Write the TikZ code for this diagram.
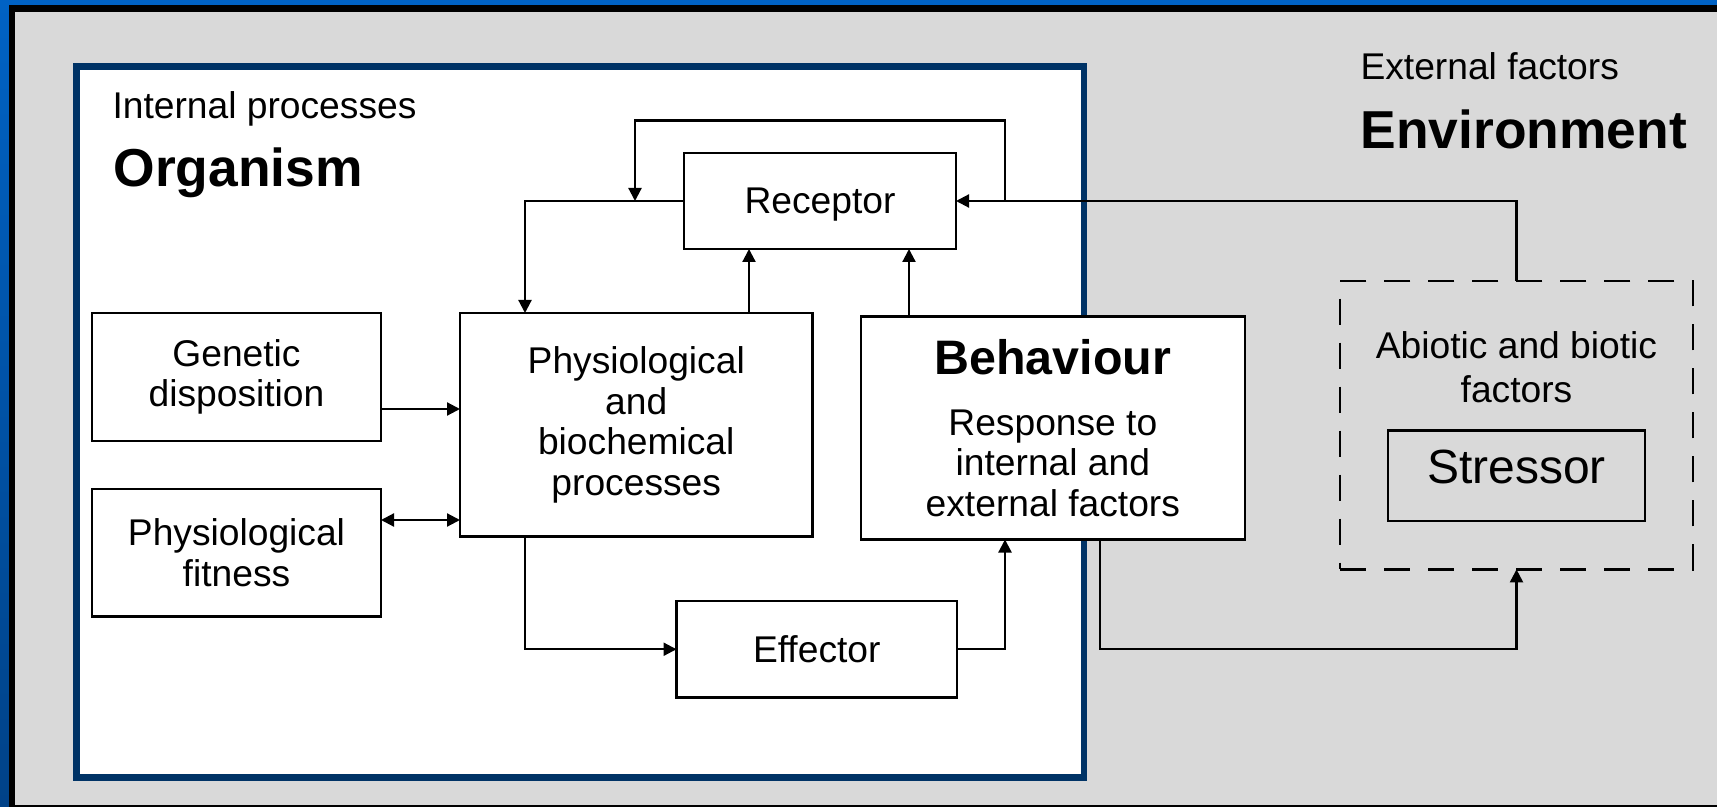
\documentclass[tikz,border=0pt]{standalone}
\usepackage{fontspec}
\setmainfont{Liberation Sans}
\usetikzlibrary{arrows.meta}
\definecolor{bggray}{RGB}{217,217,217}
\definecolor{frameblue}{RGB}{0,51,102}
\definecolor{edgeblue}{RGB}{0,98,196}
\definecolor{edgeblue2}{RGB}{0,66,136}
\tikzset{
  box/.style={draw, line width=1.2pt, fill=white, inner sep=0pt, outer sep=0pt,
    align=center, font=\fontsize{18.6}{20.3}\selectfont},
  oneline/.style={text height=16.8pt, text depth=3.9pt},
  dbox/.style={draw, line width=1.2pt, dash pattern=on 13pt off 9pt, inner sep=0pt, outer sep=0pt},
  orgframe/.style={draw=frameblue, line width=3.25pt, fill=white, inner sep=0pt, outer sep=0pt},
  conn/.style={line width=1.1pt, -{Triangle[length=6.5pt,width=6.5pt]}},
  dconn/.style={line width=1.1pt, {Triangle[length=6.5pt,width=6.5pt]}-{Triangle[length=6.5pt,width=6.5pt]}},
  txt/.style={inner sep=0pt, outer sep=0pt},
  smalltitle/.style={txt, anchor=base west, font=\fontsize{18.6}{20}\selectfont},
  bigtitle/.style={txt, anchor=base west, font=\fontsize{26.7}{30}\selectfont\bfseries}
}
\begin{document}
\begin{tikzpicture}[x=0.5pt,y=-0.5pt]
\useasboundingbox (0,0) rectangle (1717,807);
% background and outer frame
\fill[bggray] (0,0) rectangle (1717,807);
\fill[edgeblue] (0,0) rectangle (1717,5);
\shade[top color=edgeblue, bottom color=edgeblue2] (0,0) rectangle (9,807);
\fill[black] (9,5) rectangle (1717,12);
\fill[black] (9,5) rectangle (15,807);
\fill[black] (9,805) rectangle (1717,807);

% organism frame
\node[orgframe, minimum width=503.75pt, minimum height=355.5pt] (org) at (580.25,422) {};

% titles
\node[smalltitle] (intp) at (112.5,118.5) {Internal processes};
\node[bigtitle] (orgt) at (113.5,187) {Organism};
\node[smalltitle] (extf) at (1360.5,80) {External factors};
\node[bigtitle] (envt) at (1360.5,149) {Environment};

% boxes
\node[box, oneline, minimum width=136pt, minimum height=48pt] (rec) at (820,201) {Receptor};
\node[box, minimum width=176.25pt, minimum height=111.75pt] (phys) at (636.25,424.75)
  {Physiological\\and\\biochemical\\processes};
\node[box, minimum width=192.15pt, minimum height=111.5pt] (beh) at (1052.85,428)
  {{\fontsize{24.2}{28}\selectfont\bfseries Behaviour}\\[10.2pt]Response to\\internal and\\external factors};
\node[box, minimum width=144.5pt, minimum height=64pt] (gen) at (236.5,377) {Genetic\\disposition};
\node[box, minimum width=144.5pt, minimum height=63.75pt] (fit) at (236.5,552.75) {Physiological\\fitness};
\node[box, oneline, minimum width=140.25pt, minimum height=48.25pt] (eff) at (816.75,649.25) {Effector};
\node[dbox, minimum width=176.5pt, minimum height=144.2pt] (abio) at (1516.5,425.2) {};
\node[txt, align=center, font=\fontsize{18.6}{22}\selectfont] (abiotxt) at (1516.5,367) {Abiotic and biotic\\factors};
\node[box, fill=none, text depth=9.4pt, font=\fontsize{24}{28}\selectfont,
  minimum width=128.5pt, minimum height=45.25pt] (str) at (1516.5,475.75) {Stressor};

% helper coordinates
\coordinate (looptop) at ([yshift=16.25pt]rec.north);
\coordinate (loopR) at ([xshift=-23.925pt]beh.south |- rec.east);
\coordinate (loopL) at ([xshift=-24.5pt]rec.west);

% connectors
\draw[conn] ([yshift=-16pt]gen.east) -- ([yshift=-16pt]gen.east -| phys.west);
\draw[dconn] ([yshift=16.375pt]fit.east) -- ([yshift=16.375pt]fit.east -| phys.west);
\draw[conn] ([xshift=56.375pt]phys.north) -- ([xshift=56.375pt]phys.north |- rec.south);
\draw[conn] ([xshift=-71.925pt]beh.north) -- ([xshift=-71.925pt]beh.north |- rec.south);
\draw[conn] (rec.west) -| ([xshift=-55.625pt]phys.north);
\draw[conn] ([xshift=-55.625pt]phys.south) |- (eff.west);
\draw[conn] (eff.east) -| ([xshift=-23.925pt]beh.south);
\draw[conn] ([xshift=23.575pt]beh.south) -- ([xshift=23.575pt]beh.south |- eff.east) -| (abio.south);
\draw[conn] (abio.north) |- (rec.east);
\draw[conn] (loopR) -- (loopR |- looptop) -| (loopL);
\end{tikzpicture}
\end{document}
